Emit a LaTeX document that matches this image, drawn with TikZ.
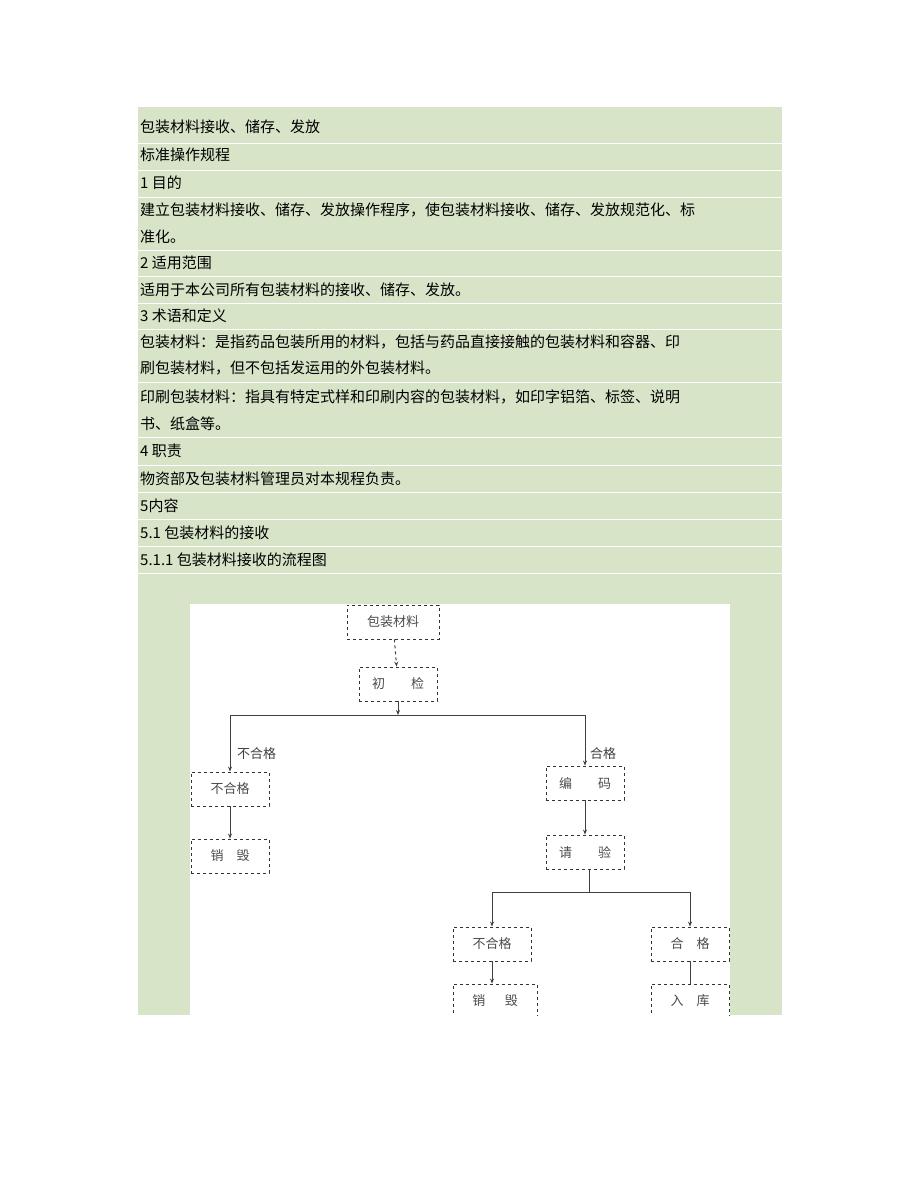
\documentclass[tikz,border=0pt]{standalone}
\usepackage{fontspec}
\setmainfont{Liberation Serif}
\newfontfamily\cjk{Noto Sans CJK SC}
\usetikzlibrary{arrows.meta}
\definecolor{panel}{HTML}{D7E4C8}
\begin{document}
\begin{tikzpicture}[x=1pt,y=-1pt,
  row/.style={anchor=west,inner sep=0pt,font=\cjk\fontsize{15}{15}\selectfont},
  fbox/.style={draw=black!80,dashed,line width=0.9pt,minimum width=78pt,minimum height=34pt,inner sep=0pt,font=\cjk\fontsize{13}{13}\selectfont\color{black!70}},
  lab/.style={inner sep=0pt,anchor=west,font=\cjk\fontsize{13}{13}\selectfont\color{black!75}},
  conn/.style={line width=1pt,black!75,-{Stealth[length=5pt,width=4pt]}},
  plain/.style={line width=1pt,black!75}]
\useasboundingbox (0,0) rectangle (920,1191);
\fill[white] (0,0) rectangle (920,1191);
\fill[panel] (138,107) rectangle (782,1015);
\foreach \y in {143,170,197,250,276,303,329,382,437,465,492,519,546,573}
  \draw[white,line width=0.8pt] (138,\y) -- (782,\y);
\node[row] (r1) at (140,127) {包装材料接收、储存、发放};
\node[row] (r2) at (140,155) {标准操作规程};
\node[row] (r3) at (140,183) {1 目的};
\node[row] (r4) at (140,210) {建立包装材料接收、储存、发放操作程序，使包装材料接收、储存、发放规范化、标};
\node[row] (r5) at (140,237) {准化。};
\node[row] (r6) at (140,263) {2 适用范围};
\node[row] (r7) at (140,290) {适用于本公司所有包装材料的接收、储存、发放。};
\node[row] (r8) at (140,316) {3 术语和定义};
\node[row] (r9) at (140,342) {包装材料：是指药品包装所用的材料，包括与药品直接接触的包装材料和容器、印};
\node[row] (r10) at (140,368) {刷包装材料，但不包括发运用的外包装材料。};
\node[row] (r11) at (140,397) {印刷包装材料：指具有特定式样和印刷内容的包装材料，如印字铝箔、标签、说明};
\node[row] (r12) at (140,424) {书、纸盒等。};
\node[row] (r13) at (140,451) {4 职责};
\node[row] (r14) at (140,479) {物资部及包装材料管理员对本规程负责。};
\node[row] (r15) at (140,506) {5内容};
\node[row] (r16) at (140,533) {5.1 包装材料的接收};
\node[row] (r17) at (140,560) {5.1.1 包装材料接收的流程图};
\fill[white] (190,604) rectangle (730,1015);
\begin{scope}
\clip (190,604) rectangle (730,1015);
\node[fbox,minimum width=92pt] (a) at (393,622) {包装材料};
\node[fbox] (b) at (398,684) {初\hspace{2em}检};
\coordinate (j1) at (398,715);
\coordinate (jl) at (230,715);
\coordinate (jr) at (585,715);
\node[fbox] (c) at (230,789) {不合格\hspace{1.5em}};
\node[fbox] (d) at (230,856) {销\hspace{1em}毁};
\node[fbox] (e) at (585,783) {编\hspace{2em}码};
\node[fbox] (f) at (585,852) {请\hspace{2em}验};
\coordinate (j2) at (589,892);
\coordinate (j2l) at (492,892);
\coordinate (j2r) at (690,892);
\node[fbox] (g) at (492,944) {不合格};
\node[fbox,minimum width=84pt] (h) at (495,1001) {销\hspace{1.5em}毁};
\node[fbox] (i) at (690,944) {合\hspace{1em}格};
\node[fbox] (k) at (690,1001) {入\hspace{1em}库};
\draw[conn,dashed] (a) -- (b);
\draw[conn] (b) -- (j1);
\draw[plain] (jl) -- (jr);
\draw[conn] (jl) -- (c);
\draw[conn] (jr) -- (e);
\node[lab] (l1) at (237,754) {不合格};
\node[lab] (l2) at (590,754) {合格};
\draw[conn] (c) -- (d);
\draw[conn] (e) -- (f);
\draw[plain] (f.south -| j2) -- (j2);
\draw[plain] (j2l) -- (j2r);
\draw[conn] (j2l) -- (g);
\draw[conn] (j2r) -- (i);
\draw[conn] (g) -- (g |- h.north);
\draw[plain] (i) -- (k);
\end{scope}
\end{tikzpicture}
\end{document}
